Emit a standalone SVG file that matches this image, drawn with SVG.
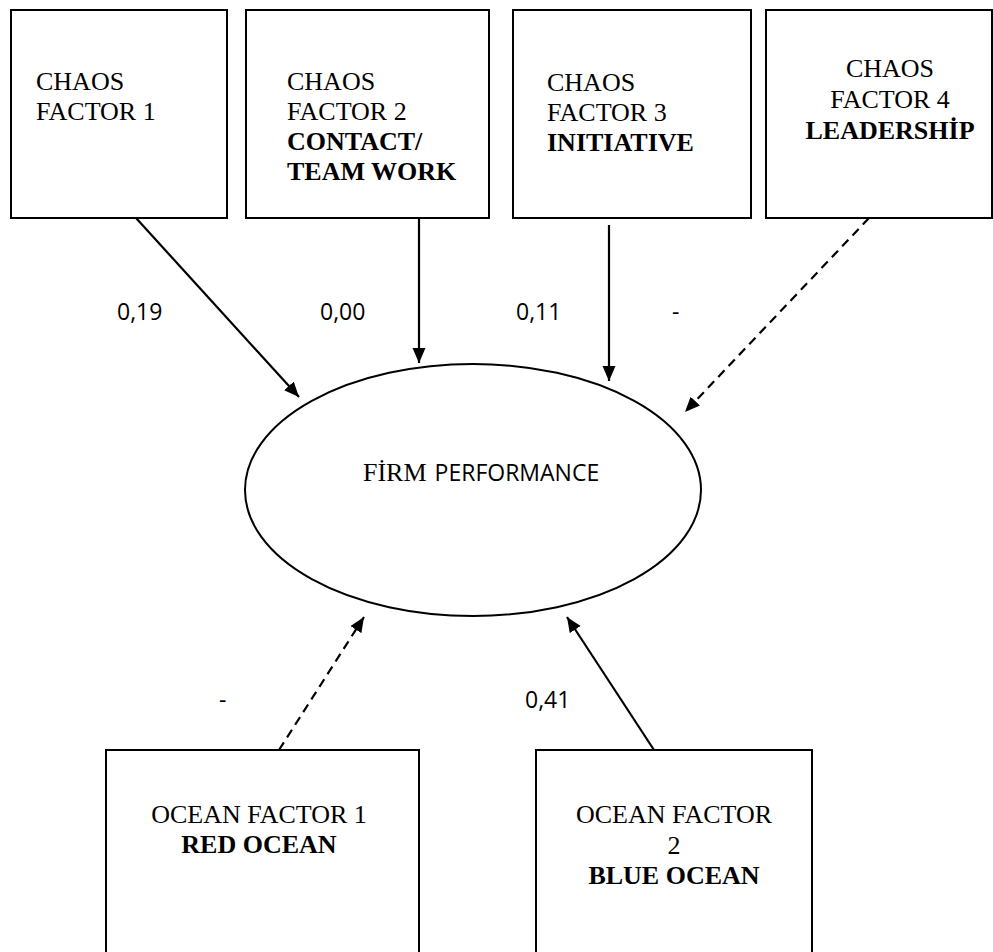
<svg xmlns="http://www.w3.org/2000/svg" width="993" height="952" viewBox="0 0 993 952">
<style>
.box{fill:#fff;stroke:#000;stroke-width:2}
.ell{fill:#fff;stroke:#000;stroke-width:2}
.t{font-family:"Liberation Serif","Times New Roman",serif;font-size:26px;fill:#000}
.b{font-weight:bold}
.lbl{font-family:"Open Sans","Liberation Sans",sans-serif;font-size:23px;fill:#000}
.c{stroke:#000;stroke-width:2.2;fill:none}
.d{stroke-dasharray:9 6}
</style>
<defs>
<marker id="ah" markerUnits="userSpaceOnUse" markerWidth="16" markerHeight="14" refX="15" refY="6.5" orient="auto">
<path d="M0,0 L15,6.5 L0,13 z" fill="#000"/>
</marker>
</defs>
<rect width="993" height="952" fill="#fff"/>
<g id="chaos1">
<rect class="box" x="11" y="10" width="216" height="208"/>
<text class="t" x="36" y="90">CHAOS</text>
<text class="t" x="36" y="120">FACTOR 1</text>
</g>
<g id="chaos2">
<rect class="box" x="246" y="10" width="243" height="208"/>
<text class="t" x="287" y="90">CHAOS</text>
<text class="t" x="287" y="120">FACTOR 2</text>
<text class="t b" x="287" y="150">CONTACT/</text>
<text class="t b" x="287" y="180">TEAM WORK</text>
</g>
<g id="chaos3">
<rect class="box" x="513" y="10" width="238" height="208"/>
<text class="t" x="547" y="91">CHAOS</text>
<text class="t" x="547" y="121">FACTOR 3</text>
<text class="t b" x="547" y="151">INITIATIVE</text>
</g>
<g id="chaos4">
<rect class="box" x="766" y="10" width="226" height="208"/>
<text class="t" x="890" y="77" text-anchor="middle">CHAOS</text>
<text class="t" x="890" y="108" text-anchor="middle">FACTOR 4</text>
<text class="t b" x="890" y="139" text-anchor="middle">LEADERSHİP</text>
</g>
<g id="firm">
<ellipse class="ell" cx="473" cy="490" rx="228" ry="126"/>
<text x="363" y="481"><tspan class="t">FİRM</tspan><tspan class="lbl" dx="8">PERFORMANCE</tspan></text>
</g>
<g id="ocean1">
<rect class="box" x="106" y="750" width="313" height="215"/>
<text class="t" x="259" y="823" text-anchor="middle">OCEAN FACTOR 1</text>
<text class="t b" x="259" y="853" text-anchor="middle">RED OCEAN</text>
</g>
<g id="ocean2">
<rect class="box" x="536" y="750" width="276" height="215"/>
<text class="t" x="674" y="823" text-anchor="middle">OCEAN FACTOR</text>
<text class="t" x="674" y="854" text-anchor="middle">2</text>
<text class="t b" x="674" y="884" text-anchor="middle">BLUE OCEAN</text>
</g>
<g id="connectors">
<line class="c" x1="136" y1="218" x2="299" y2="397" marker-end="url(#ah)"/>
<line class="c" x1="419" y1="218" x2="419" y2="363" marker-end="url(#ah)"/>
<line class="c" x1="609" y1="225" x2="609" y2="381" marker-end="url(#ah)"/>
<line class="c d" x1="869" y1="218" x2="685" y2="412" marker-end="url(#ah)"/>
<line class="c d" x1="279" y1="750" x2="364" y2="617" marker-end="url(#ah)"/>
<line class="c" x1="654" y1="750" x2="567" y2="617" marker-end="url(#ah)"/>
</g>
<g id="labels">
<text class="lbl" x="117" y="320">0,19</text>
<text class="lbl" x="320" y="320">0,00</text>
<text class="lbl" x="516" y="320">0,11</text>
<text class="lbl" x="672" y="320">-</text>
<text class="lbl" x="219" y="708">-</text>
<text class="lbl" x="525" y="708">0,41</text>
</g>
</svg>
